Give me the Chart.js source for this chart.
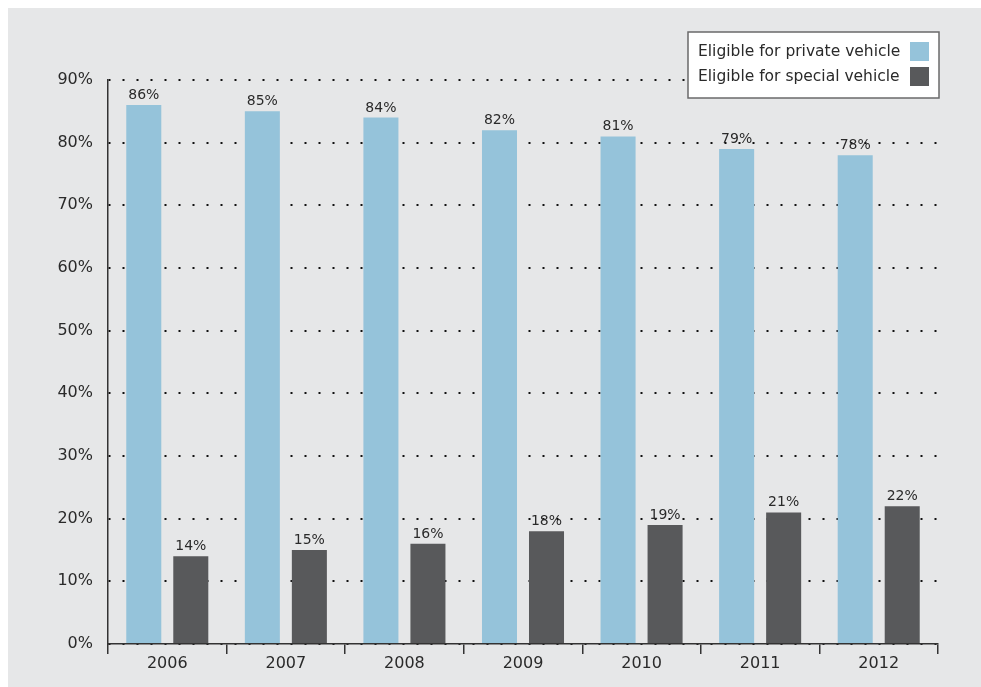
<!DOCTYPE html>
<html>
<head>
<meta charset="utf-8">
<script src="https://cdn.jsdelivr.net/npm/chart.js@4/dist/chart.umd.min.js"></script>
<style>
  html, body { margin: 0; padding: 0; background: #ffffff; }
  #wrap { position: absolute; left: 8px; top: 8px; width: 973px; height: 679px; background: #e6e7e8; }
  canvas { display: block; }
</style>
</head>
<body>
<div id="wrap"><canvas id="c" width="973" height="679"></canvas></div>
<script>
const categories = ['2006', '2007', '2008', '2009', '2010', '2011', '2012'];
const privateVehicle = [86, 85, 84, 82, 81, 79, 78];
const specialVehicle = [14, 15, 16, 18, 19, 21, 22];
const seriesNames = ['Eligible for private vehicle', 'Eligible for special vehicle'];
const yTicks = [0, 10, 20, 30, 40, 50, 60, 70, 80, 90];

const FONT = '"DejaVu Sans", sans-serif';
const TXT = '#2a2a2a';

const valueLabels = {
  id: 'valueLabels',
  afterDatasetsDraw(chart) {
    const ctx = chart.ctx;
    ctx.save();
    ctx.font = '14px ' + FONT;
    ctx.fillStyle = TXT;
    ctx.textAlign = 'center';
    ctx.textBaseline = 'alphabetic';
    chart.data.datasets.forEach((ds, i) => {
      chart.getDatasetMeta(i).data.forEach((el, j) => {
        ctx.fillText(ds.data[j] + '%', el.x, el.y - 6);
      });
    });
    ctx.restore();
  }
};

const boxLegend = {
  id: 'boxLegend',
  afterDraw(chart) {
    const ctx = chart.ctx;
    const x = 680, y = 24, w = 251, h = 66;
    ctx.save();
    ctx.fillStyle = '#ffffff';
    ctx.fillRect(x, y, w, h);
    ctx.strokeStyle = '#6a6a6a';
    ctx.lineWidth = 1.5;
    ctx.strokeRect(x, y, w, h);
    ctx.font = '15.5px ' + FONT;
    ctx.fillStyle = TXT;
    ctx.textAlign = 'left';
    ctx.textBaseline = 'middle';
    chart.data.datasets.forEach((ds, i) => {
      const cy = y + 19.5 + i * 25;
      ctx.fillText(ds.label, x + 10, cy);
      ctx.fillStyle = ds.backgroundColor;
      ctx.fillRect(x + 222, cy - 9.5, 19, 19);
      ctx.fillStyle = TXT;
    });
    ctx.restore();
  }
};

new Chart(document.getElementById('c'), {
  type: 'bar',
  data: {
    labels: categories,
    datasets: [
      { label: seriesNames[0], data: privateVehicle, backgroundColor: '#95c3da', borderWidth: 0 },
      { label: seriesNames[1], data: specialVehicle, backgroundColor: '#58595b', borderWidth: 0 }
    ]
  },
  options: {
    responsive: false,
    animation: false,
    devicePixelRatio: 1,
    categoryPercentage: 0.793,
    barPercentage: 0.745,
    layout: { padding: { top: 72, right: 43, left: 0, bottom: 0 } },
    plugins: { legend: { display: false }, tooltip: { enabled: false } },
    scales: {
      x: {
        grid: { drawOnChartArea: false, drawTicks: true, tickLength: 10, offset: true, color: '#333', lineWidth: 1.5 },
        border: { display: true, color: '#333', width: 1.5 },
        ticks: { color: TXT, font: { family: FONT, size: 16 }, padding: 0 },
        afterFit(s) { s.height = 43; }
      },
      y: {
        min: 0, max: 90,
        afterBuildTicks(s) { s.ticks = yTicks.map(v => ({ value: v })); },
        grid: { drawTicks: false, color: '#111', lineWidth: 2 },
        border: { display: true, color: '#333', width: 1.5, dash: [2, 12] },
        ticks: { color: TXT, font: { family: FONT, size: 16 }, padding: 15, callback: v => v + '%' },
        afterFit(s) { s.width = 100; }
      }
    }
  },
  plugins: [valueLabels, boxLegend]
});
</script>
</body>
</html>
